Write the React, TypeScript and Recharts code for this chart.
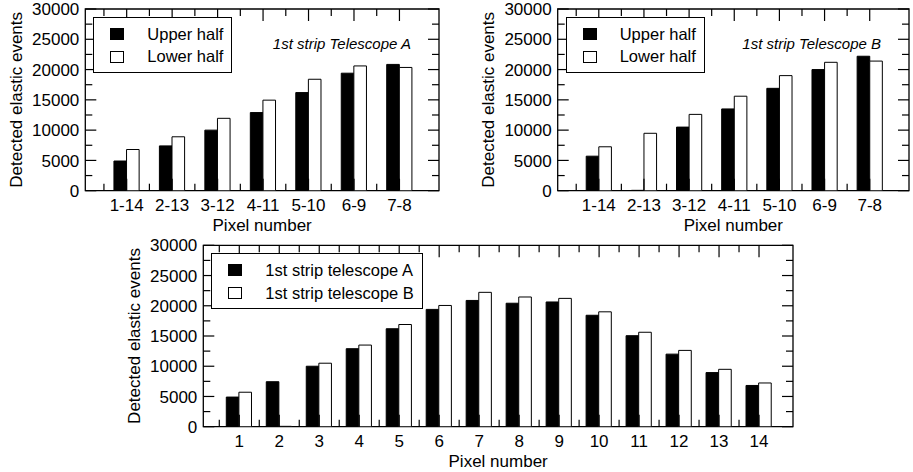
import React from "react"
import { Bar, BarChart, Legend, ReferenceArea, XAxis, YAxis } from "recharts"

// top charts: pixel pairs (upper half vs lower half)
const pairLabels = ["1-14", "2-13", "3-12", "4-11", "5-10", "6-9", "7-8"]
const upperA = [4900, 7400, 10000, 12900, 16200, 19400, 20850]
const lowerA = [6800, 8900, 11950, 14950, 18400, 20600, 20350]
const upperB = [5700, 60, 10500, 13500, 16900, 20000, 22200]
const lowerB = [7250, 9480, 12600, 15600, 19000, 21200, 21400]

// bottom chart: single pixels
const pixelLabels = ["1", "2", "3", "4", "5", "6", "7", "8", "9", "10", "11", "12", "13", "14"]
const telescopeA = [4900, 7440, 10000, 12900, 16200, 19400, 20880, 20420, 20630, 18430, 15050, 12000, 8950, 6820]
const telescopeB = [5700, 60, 10500, 13500, 16900, 20050, 22220, 21450, 21220, 19000, 15620, 12620, 9490, 7230]

const yTicks = [0, 2500, 5000, 7500, 10000, 12500, 15000, 17500, 20000, 22500, 25000, 27500, 30000]

const FONT = "'Liberation Sans', Arial, Helvetica, sans-serif"

const halfTicks = (n: number) => Array.from({ length: 2 * n }, (_, i) => (i + 1) / 2)

function makeXTick(labels: string[], plotH: number) {
  return (props: any) => {
    const { x, y, payload } = props
    const v = payload.value
    const major = Number.isInteger(v)
    const len = major ? 12 : 7
    const top = y - plotH
    return (
      <g>
        <line x1={x} y1={y} x2={x} y2={y - len} stroke="#000" strokeWidth={1.2} />
        <line x1={x} y1={top} x2={x} y2={top + len} stroke="#000" strokeWidth={1.2} />
        {major && labels[v - 1] && (
          <text x={x} y={y + 20.5} textAnchor="middle" fontSize={17} fontFamily={FONT} fill="#000">
            {labels[v - 1]}
          </text>
        )}
      </g>
    )
  }
}

function makeYTick(plotW: number) {
  return (props: any) => {
    const { x, y, payload } = props
    const v = payload.value
    const major = v % 5000 === 0
    const len = major ? 11 : 7
    return (
      <g>
        <line x1={x} y1={y} x2={x + len} y2={y} stroke="#000" strokeWidth={1.2} />
        <line x1={x + plotW} y1={y} x2={x + plotW - len} y2={y} stroke="#000" strokeWidth={1.2} />
        {major && (
          <text x={x - 6} y={y} dy="0.36em" textAnchor="end" fontSize={17} fontFamily={FONT} fill="#000">
            {v}
          </text>
        )}
      </g>
    )
  }
}

function LegendBox({ payload }: any) {
  return (
    <div
      style={{
        border: "1.3px solid #000",
        background: "#fff",
        padding: "5px 8px 4px 16px",
        fontFamily: FONT,
        fontSize: 16.5,
      }}
    >
      {(payload || []).map((p: any) => (
        <div key={p.value} style={{ display: "flex", alignItems: "center", height: 22.7, whiteSpace: "nowrap" }}>
          <span
            style={{
              width: 12,
              height: 10,
              background: p.color,
              border: "1.2px solid #000",
              marginRight: 23,
              display: "inline-block",
            }}
          />
          {p.value}
        </div>
      ))}
    </div>
  )
}

type PanelProps = {
  left: number
  top: number
  width: number
  height: number
  marginTop: number
  marginRight: number
  yAxisWidth: number
  domain: [number, number]
  labels: string[]
  first: number[]
  second: number[]
  firstName: string
  secondName: string
  note?: string
}

function Panel(p: PanelProps) {
  const data = p.labels.map((_, i) => ({ x: i + 1, a: p.first[i], b: p.second[i] }))
  const xAxisHeight = 45.3
  const plotH = p.height - p.marginTop - xAxisHeight
  const plotW = p.width - p.yAxisWidth - p.marginRight
  return (
    <div style={{ position: "absolute", left: p.left, top: p.top, width: p.width, height: p.height }}>
      <BarChart
        width={p.width}
        height={p.height}
        data={data}
        margin={{ top: p.marginTop, right: p.marginRight, left: 0, bottom: 0 }}
        barSize={12.6}
        barGap={0}
      >
        <XAxis
          dataKey="x"
          type="number"
          domain={p.domain}
          allowDataOverflow
          ticks={halfTicks(p.labels.length)}
          interval={0}
          axisLine={false}
          tickLine={false}
          tickSize={0}
          tickMargin={0}
          height={xAxisHeight}
          tick={makeXTick(p.labels, plotH)}
          label={{
            value: "Pixel number",
            position: "insideBottom",
            offset: 5,
            style: { fontSize: 17, fontFamily: FONT, fill: "#000" },
          }}
        />
        <YAxis
          type="number"
          domain={[0, 30000]}
          allowDataOverflow
          ticks={yTicks}
          interval={0}
          axisLine={false}
          tickLine={false}
          tickSize={0}
          tickMargin={0}
          width={p.yAxisWidth}
          tick={makeYTick(plotW)}
          label={{
            value: "Detected elastic events",
            angle: -90,
            position: "insideLeft",
            offset: 16,
            style: { textAnchor: "middle", fontSize: 17, fontFamily: FONT, fill: "#000" },
          }}
        />
        <Bar dataKey="a" name={p.firstName} fill="#000" stroke="#000" strokeWidth={1} isAnimationActive={false} />
        <Bar dataKey="b" name={p.secondName} fill="#fff" stroke="#000" strokeWidth={1} isAnimationActive={false} />
        <ReferenceArea
          x1={p.domain[0]}
          x2={p.domain[1]}
          y1={0}
          y2={30000}
          fill="none"
          fillOpacity={0}
          stroke="#000"
          strokeWidth={1.3}
          ifOverflow="visible"
        />
        <Legend
          layout="vertical"
          align="center"
          verticalAlign="middle"
          itemSorter="dataKey"
          content={LegendBox}
          wrapperStyle={{ left: p.yAxisWidth + 8, top: p.marginTop + 7.7, width: "auto", height: "auto" }}
        />
      </BarChart>
      {p.note && (
        <div
          style={{
            position: "absolute",
            right: p.marginRight + 28,
            top: p.marginTop + 26,
            fontFamily: FONT,
            fontSize: 15,
            fontStyle: "italic",
            lineHeight: "17px",
            whiteSpace: "nowrap",
          }}
        >
          {p.note}
        </div>
      )}
    </div>
  )
}

export default function App() {
  return (
    <div style={{ position: "absolute", left: 0, top: 0, width: 913, height: 472, background: "#fff" }}>
      <Panel
        left={0}
        top={0}
        width={456}
        height={236}
        marginTop={9}
        marginRight={17}
        yAxisWidth={85.3}
        domain={[0.09, 7.87]}
        labels={pairLabels}
        first={upperA}
        second={lowerA}
        firstName="Upper half"
        secondName="Lower half"
        note="1st strip Telescope A"
      />
      <Panel
        left={472}
        top={0}
        width={441}
        height={236}
        marginTop={9}
        marginRight={4}
        yAxisWidth={85.7}
        domain={[0.09, 7.87]}
        labels={pairLabels}
        first={upperB}
        second={lowerB}
        firstName="Upper half"
        secondName="Lower half"
        note="1st strip Telescope B"
      />
      <Panel
        left={118}
        top={236}
        width={690}
        height={236}
        marginTop={9.3}
        marginRight={15}
        yAxisWidth={85.3}
        domain={[0.1, 14.85]}
        labels={pixelLabels}
        first={telescopeA}
        second={telescopeB}
        firstName="1st strip telescope A"
        secondName="1st strip telescope B"
      />
    </div>
  )
}
